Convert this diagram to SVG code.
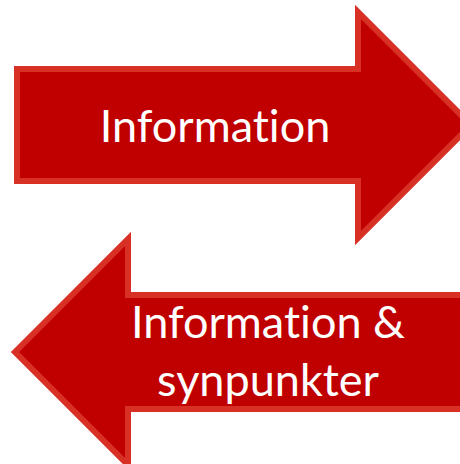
<svg xmlns="http://www.w3.org/2000/svg" width="460" height="464" viewBox="0 0 460 464">
<style>
.arrow{fill:#c00000;stroke:#d93026;stroke-width:6;stroke-linejoin:miter}
.lbl{fill:#ffffff;font-family:Lato,"Open Sans","Liberation Sans",sans-serif;font-size:45px;text-anchor:middle;font-variant-ligatures:none;font-feature-settings:"liga" 0}
</style>
<rect width="460" height="464" fill="#ffffff"/>
<g id="arrow-right">
<path class="arrow" d="M17,69 H358 V12 L471,125 L358,238 V181 H17 Z"/>
<text class="lbl" x="215" y="142">Information</text>
</g>
<g id="arrow-left">
<path class="arrow" d="M15,352 L128,239 V295 H472 V409 H128 V465 Z"/>
<text class="lbl" x="268" y="338">Information &amp;</text>
<text class="lbl" x="268" y="396">synpunkter</text>
</g>
<g id="connectors"/>
</svg>
